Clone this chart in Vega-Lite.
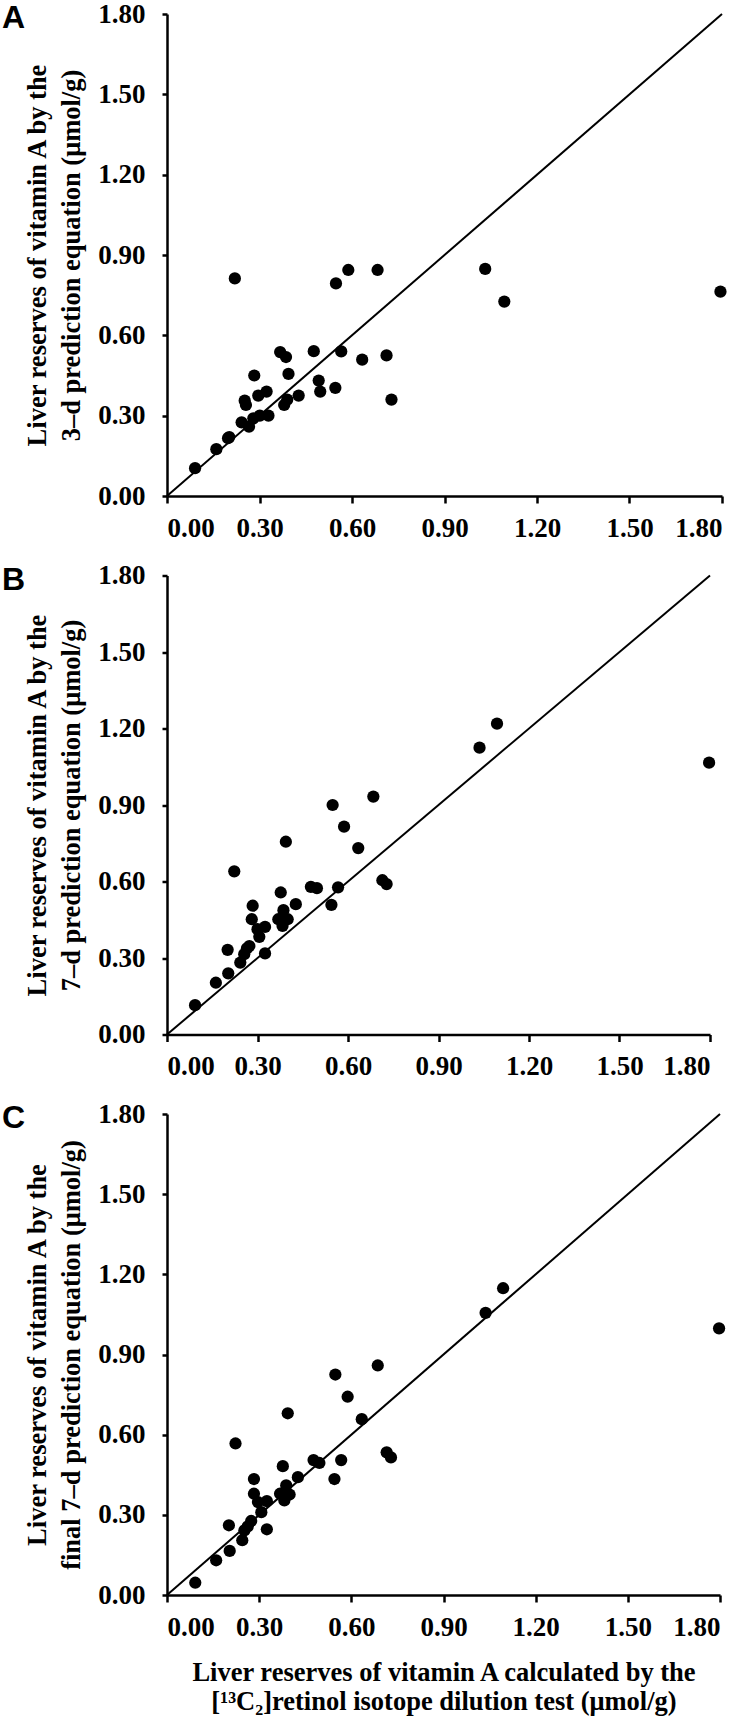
{
  "$schema": "https://vega.github.io/schema/vega-lite/v6.json",
  "background": "white",
  "padding": {"left": 2, "top": 0, "right": 4, "bottom": 2},
  "bounds": "flush",
  "spacing": 79.5,
  "config": {
    "view": {"stroke": null},
    "axis": {
      "grid": false,
      "domainColor": "black",
      "domainWidth": 2.5,
      "tickColor": "black",
      "tickWidth": 2.5,
      "labelFont": "Liberation Serif",
      "labelFontWeight": "bold",
      "labelFontSize": 27,
      "labelColor": "black",
      "titleFont": "Liberation Serif",
      "titleFontWeight": "bold",
      "titleFontSize": 26.5,
      "titleColor": "black"
    },
    "axisY": {"tickSize": 5, "labelPadding": 17, "titlePadding": 12, "titleLineHeight": 34},
    "axisX": {"tickSize": 7, "labelPadding": 12, "titlePadding": 19, "titleLineHeight": 29},
    "title": {"font": "Liberation Sans", "fontWeight": "bold", "fontSize": 32, "color": "black", "anchor": "start", "frame": "group", "baseline": "top", "dx": -165, "offset": -35}
  },
  "datasets": {
    "diag": [{"x": 0, "y": 0}, {"x": 1.8, "y": 1.8}],
    "pts": [
      {"panel": "A", "x": 0.091, "y": 0.104}, {"panel": "A", "x": 0.160, "y": 0.175}, {"panel": "A", "x": 0.198, "y": 0.216}, {"panel": "A", "x": 0.202, "y": 0.22}, {"panel": "A", "x": 0.22, "y": 0.8125},
      {"panel": "A", "x": 0.242, "y": 0.275}, {"panel": "A", "x": 0.266, "y": 0.259}, {"panel": "A", "x": 0.252, "y": 0.356}, {"panel": "A", "x": 0.256, "y": 0.34}, {"panel": "A", "x": 0.283, "y": 0.45},
      {"panel": "A", "x": 0.296, "y": 0.375}, {"panel": "A", "x": 0.28, "y": 0.29}, {"panel": "A", "x": 0.301, "y": 0.30}, {"panel": "A", "x": 0.323, "y": 0.39}, {"panel": "A", "x": 0.329, "y": 0.30},
      {"panel": "A", "x": 0.367, "y": 0.5375}, {"panel": "A", "x": 0.386, "y": 0.519}, {"panel": "A", "x": 0.394, "y": 0.456}, {"panel": "A", "x": 0.38, "y": 0.34}, {"panel": "A", "x": 0.39, "y": 0.36},
      {"panel": "A", "x": 0.427, "y": 0.375}, {"panel": "A", "x": 0.476, "y": 0.541}, {"panel": "A", "x": 0.492, "y": 0.431}, {"panel": "A", "x": 0.497, "y": 0.39}, {"panel": "A", "x": 0.546, "y": 0.404},
      {"panel": "A", "x": 0.548, "y": 0.794}, {"panel": "A", "x": 0.565, "y": 0.54}, {"panel": "A", "x": 0.588, "y": 0.844}, {"panel": "A", "x": 0.633, "y": 0.509}, {"panel": "A", "x": 0.683, "y": 0.844},
      {"panel": "A", "x": 0.712, "y": 0.525}, {"panel": "A", "x": 0.728, "y": 0.36}, {"panel": "A", "x": 1.032, "y": 0.848}, {"panel": "A", "x": 1.094, "y": 0.726}, {"panel": "A", "x": 1.795, "y": 0.763},

      {"panel": "B", "x": 0.093, "y": 0.115}, {"panel": "B", "x": 0.162, "y": 0.203}, {"panel": "B", "x": 0.203, "y": 0.24}, {"panel": "B", "x": 0.201, "y": 0.332}, {"panel": "B", "x": 0.223, "y": 0.64},
      {"panel": "B", "x": 0.243, "y": 0.282}, {"panel": "B", "x": 0.256, "y": 0.315}, {"panel": "B", "x": 0.265, "y": 0.338}, {"panel": "B", "x": 0.273, "y": 0.347}, {"panel": "B", "x": 0.284, "y": 0.505},
      {"panel": "B", "x": 0.281, "y": 0.452}, {"panel": "B", "x": 0.30, "y": 0.413}, {"panel": "B", "x": 0.306, "y": 0.383}, {"panel": "B", "x": 0.325, "y": 0.422}, {"panel": "B", "x": 0.325, "y": 0.318},
      {"panel": "B", "x": 0.377, "y": 0.557}, {"panel": "B", "x": 0.369, "y": 0.452}, {"panel": "B", "x": 0.386, "y": 0.4875}, {"panel": "B", "x": 0.383, "y": 0.426}, {"panel": "B", "x": 0.40, "y": 0.452},
      {"panel": "B", "x": 0.394, "y": 0.756}, {"panel": "B", "x": 0.427, "y": 0.511}, {"panel": "B", "x": 0.477, "y": 0.579}, {"panel": "B", "x": 0.497, "y": 0.574}, {"panel": "B", "x": 0.545, "y": 0.5085},
      {"panel": "B", "x": 0.549, "y": 0.90}, {"panel": "B", "x": 0.567, "y": 0.577}, {"panel": "B", "x": 0.587, "y": 0.815}, {"panel": "B", "x": 0.634, "y": 0.731}, {"panel": "B", "x": 0.684, "y": 0.933},
      {"panel": "B", "x": 0.714, "y": 0.605}, {"panel": "B", "x": 0.728, "y": 0.59}, {"panel": "B", "x": 1.036, "y": 1.125}, {"panel": "B", "x": 1.094, "y": 1.219}, {"panel": "B", "x": 1.797, "y": 1.066},

      {"panel": "C", "x": 0.092, "y": 0.046}, {"panel": "C", "x": 0.16, "y": 0.13}, {"panel": "C", "x": 0.204, "y": 0.165}, {"panel": "C", "x": 0.2015, "y": 0.261}, {"panel": "C", "x": 0.223, "y": 0.567},
      {"panel": "C", "x": 0.245, "y": 0.205}, {"panel": "C", "x": 0.252, "y": 0.242}, {"panel": "C", "x": 0.263, "y": 0.257}, {"panel": "C", "x": 0.274, "y": 0.277}, {"panel": "C", "x": 0.283, "y": 0.434},
      {"panel": "C", "x": 0.283, "y": 0.379}, {"panel": "C", "x": 0.296, "y": 0.348}, {"panel": "C", "x": 0.307, "y": 0.31}, {"panel": "C", "x": 0.325, "y": 0.351}, {"panel": "C", "x": 0.325, "y": 0.246},
      {"panel": "C", "x": 0.377, "y": 0.482}, {"panel": "C", "x": 0.368, "y": 0.379}, {"panel": "C", "x": 0.382, "y": 0.354}, {"panel": "C", "x": 0.388, "y": 0.41}, {"panel": "C", "x": 0.399, "y": 0.376},
      {"panel": "C", "x": 0.393, "y": 0.68}, {"panel": "C", "x": 0.426, "y": 0.441}, {"panel": "C", "x": 0.477, "y": 0.505}, {"panel": "C", "x": 0.496, "y": 0.494}, {"panel": "C", "x": 0.545, "y": 0.434},
      {"panel": "C", "x": 0.548, "y": 0.825}, {"panel": "C", "x": 0.567, "y": 0.505}, {"panel": "C", "x": 0.588, "y": 0.742}, {"panel": "C", "x": 0.634, "y": 0.658}, {"panel": "C", "x": 0.686, "y": 0.859},
      {"panel": "C", "x": 0.715, "y": 0.534}, {"panel": "C", "x": 0.729, "y": 0.515}, {"panel": "C", "x": 1.037, "y": 1.056}, {"panel": "C", "x": 1.094, "y": 1.148}, {"panel": "C", "x": 1.797, "y": 0.998}
    ]
  },
  "vconcat": [
    {
      "width": 555, "height": 482,
      "title": {"text": "A", "fontSize": 32},
      "layer": [
        {"data": {"name": "diag"}, "mark": {"type": "line", "color": "black", "strokeWidth": 2},
         "encoding": {
           "x": {"field": "x", "type": "quantitative", "scale": {"domain": [0, 1.8], "nice": false}, "axis": {"values": [0, 0.3, 0.6, 0.9, 1.2, 1.5, 1.8], "format": ".2f", "title": null}},
           "y": {"field": "y", "type": "quantitative", "scale": {"domain": [0, 1.8], "nice": false}, "axis": {"values": [0, 0.3, 0.6, 0.9, 1.2, 1.5, 1.8], "format": ".2f", "title": ["Liver reserves of vitamin A by the", "3–d prediction equation (μmol/g)"]}}
         }},
        {"data": {"name": "pts"}, "transform": [{"filter": "datum.panel === 'A'"}],
         "mark": {"type": "circle", "size": 150, "opacity": 1, "color": "black"},
         "encoding": {"x": {"field": "x", "type": "quantitative"}, "y": {"field": "y", "type": "quantitative"}}}
      ]
    },
    {
      "width": 543, "height": 459,
      "title": {"text": "B", "fontSize": 32},
      "layer": [
        {"data": {"name": "diag"}, "mark": {"type": "line", "color": "black", "strokeWidth": 2},
         "encoding": {
           "x": {"field": "x", "type": "quantitative", "scale": {"domain": [0, 1.8], "nice": false}, "axis": {"values": [0, 0.3, 0.6, 0.9, 1.2, 1.5, 1.8], "format": ".2f", "title": null}},
           "y": {"field": "y", "type": "quantitative", "scale": {"domain": [0, 1.8], "nice": false}, "axis": {"values": [0, 0.3, 0.6, 0.9, 1.2, 1.5, 1.8], "format": ".2f", "title": ["Liver reserves of vitamin A by the", "7–d prediction equation (μmol/g)"]}}
         }},
        {"data": {"name": "pts"}, "transform": [{"filter": "datum.panel === 'B'"}],
         "mark": {"type": "circle", "size": 150, "opacity": 1, "color": "black"},
         "encoding": {"x": {"field": "x", "type": "quantitative"}, "y": {"field": "y", "type": "quantitative"}}}
      ]
    },
    {
      "width": 553, "height": 481,
      "title": {"text": "C", "fontSize": 32},
      "layer": [
        {"data": {"name": "diag"}, "mark": {"type": "line", "color": "black", "strokeWidth": 2},
         "encoding": {
           "x": {"field": "x", "type": "quantitative", "scale": {"domain": [0, 1.8], "nice": false}, "axis": {"values": [0, 0.3, 0.6, 0.9, 1.2, 1.5, 1.8], "format": ".2f", "title": ["Liver reserves of vitamin A calculated by the", "[¹³C₂]retinol isotope dilution test (μmol/g)"]}},
           "y": {"field": "y", "type": "quantitative", "scale": {"domain": [0, 1.8], "nice": false}, "axis": {"values": [0, 0.3, 0.6, 0.9, 1.2, 1.5, 1.8], "format": ".2f", "title": ["Liver reserves of vitamin A by the", "final 7–d prediction equation (μmol/g)"]}}
         }},
        {"data": {"name": "pts"}, "transform": [{"filter": "datum.panel === 'C'"}],
         "mark": {"type": "circle", "size": 150, "opacity": 1, "color": "black"},
         "encoding": {"x": {"field": "x", "type": "quantitative"}, "y": {"field": "y", "type": "quantitative"}}}
      ]
    }
  ]
}
